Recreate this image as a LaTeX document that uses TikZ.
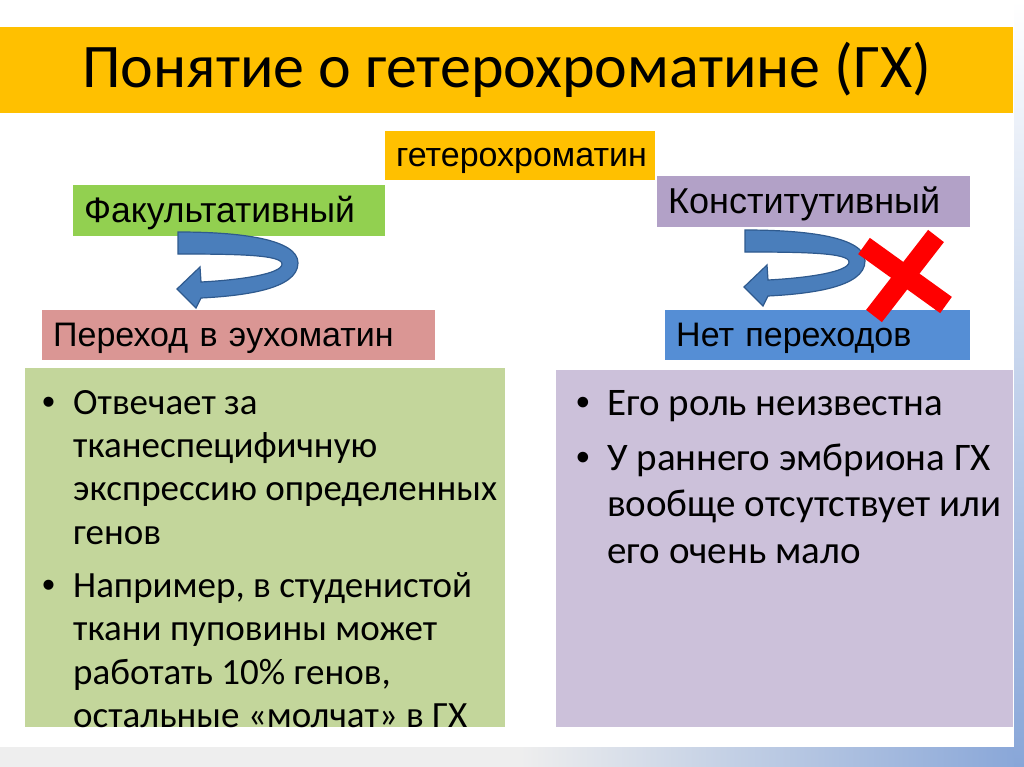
\documentclass[tikz,border=0pt]{standalone}
\usepackage{fontspec}
\setmainfont{Carlito}
\newfontfamily\arialfont{Liberation Sans}

\definecolor{titlegold}{HTML}{FFC000}
\definecolor{facgreen}{HTML}{92D050}
\definecolor{konstviolet}{HTML}{B2A1C7}
\definecolor{perehodpink}{HTML}{DA9694}
\definecolor{netblue}{HTML}{558ED5}
\definecolor{facbg}{HTML}{C3D69B}
\definecolor{konstbg}{HTML}{CCC1DA}
\definecolor{arrowblue}{HTML}{4A7EBB}
\definecolor{arrowedge}{HTML}{2F5A8E}
\definecolor{stripgray}{HTML}{EEEEEE}
\definecolor{stripblue}{HTML}{88A6D8}

\newcommand{\itembul}{\makebox[31pt][l]{\arialfont\textbullet}}
\newcommand{\itemind}{\hspace*{31pt}}

\begin{document}
\begin{tikzpicture}[x=1pt,y=-1pt,
	lbl/.style={font=\arialfont\fontsize{34}{40}\selectfont, anchor=north west,
		inner xsep=11pt, inner ysep=0pt, text depth=14pt, align=left},
	body/.style={anchor=north west, inner sep=0pt, align=left},
	redx/.style={draw=red, line width=20pt},
	uturn/.pic={
		\filldraw[fill=arrowblue, draw=arrowedge, line width=1.2pt]
		(0,0) .. controls (62,0) and (120,7) .. (120,31)
		.. controls (120,58) and (62,64) .. (23,66)
		-- (18,76) -- (-1,57) -- (22,35) -- (23,50)
		.. controls (62,48) and (104,42) .. (104,32)
		.. controls (104,23) and (62,22) .. (0,22) -- cycle;
	}]
	\useasboundingbox (0,0) rectangle (1024,767);
	\fill[white] (0,0) rectangle (1024,767);
	% frame of the slide
	\fill[stripgray] (0,747) rectangle (1024,767);
	\shade[left color=stripgray, right color=stripblue] (520,747) rectangle (1024,767);
	\shade[top color=white, bottom color=stripblue] (1014,0) rectangle (1024,767);

	% title
	\node[fill=titlegold, anchor=north west, inner sep=0pt,
		minimum width=1013pt, minimum height=86pt,
		font=\fontsize{62}{72}\selectfont] (title) at (0,27)
		{Понятие о гетерохроматине (ГХ)};

	% labels
	\node[lbl, fill=titlegold, text height=35pt, text width=248pt, align=center]
		(hetero) at (385,131) {гетерохроматин};
	\node[lbl, fill=facgreen, text height=37pt, text width=290pt,
		font=\arialfont\fontsize{35.5}{40}\selectfont]
		(fac) at (73,185) {Факультативный};
	\node[lbl, fill=konstviolet, text height=37pt, text width=291pt,
		font=\arialfont\fontsize{36}{40}\selectfont]
		(konst) at (657,176) {Конститутивный};
	\node[lbl, fill=perehodpink, text height=36pt, text width=371pt]
		(perehod) at (42,310) {Переход в эухоматин};
	\node[lbl, fill=netblue, text height=36pt, text width=283pt]
		(net) at (665,310) {Нет переходов};

	% transitions
	\pic at (178,232) {uturn};
	\pic at (745,230) {uturn};
	\draw[redx] (864,246) -- (946,305);
	\draw[redx] (936,236) -- (874,316);

	% text boxes
	\node[fill=facbg, anchor=north west, inner sep=0pt,
		minimum width=480pt, minimum height=359pt] (facbox) at (25,368) {};
	\node[fill=konstbg, anchor=north west, inner sep=0pt,
		minimum width=457pt, minimum height=357pt] (konstbox) at (556,370) {};

	\node[body, font=\fontsize{37}{43.3}\selectfont] (factext) at (42,390)
		{\itembul Отвечает за\\
		\itemind тканеспецифичную\\
		\itemind экспрессию определенных\\
		\itemind генов\\[10pt]
		\itembul Например, в студенистой\\
		\itemind ткани пуповины может\\
		\itemind работать 10\% генов,\\
		\itemind остальные «молчат» в ГХ};
	\node[body, font=\fontsize{39}{46.5}\selectfont] (konsttext) at (576,390)
		{\itembul Его роль неизвестна\\[8.5pt]
		\itembul У раннего эмбриона ГХ\\
		\itemind вообще отсутствует или\\
		\itemind его очень мало};
\end{tikzpicture}
\end{document}
